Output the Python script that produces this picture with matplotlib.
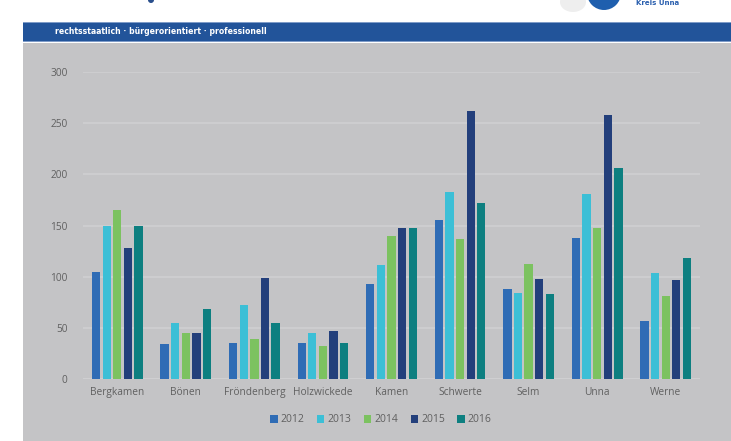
import matplotlib.pyplot as plt
from matplotlib.patches import Rectangle, Ellipse

# ---- data ----
cities = ["Bergkamen", "Bönen", "Fröndenberg", "Holzwickede", "Kamen",
          "Schwerte", "Selm", "Unna", "Werne"]
years = ["2012", "2013", "2014", "2015", "2016"]
v2012 = [105, 34, 35, 35, 93, 155, 88, 138, 57]
v2013 = [150, 55, 72, 45, 111, 183, 84, 181, 104]
v2014 = [165, 45, 39, 32, 140, 137, 112, 148, 81]
v2015 = [128, 45, 99, 47, 148, 262, 98, 258, 97]
v2016 = [150, 68, 55, 35, 148, 172, 83, 206, 118]
series = [v2012, v2013, v2014, v2015, v2016]
colors = ["#2f6cb5", "#3cbfd6", "#7cc260", "#233f7b", "#0d7f80"]

W, H = 731, 441
fig = plt.figure(figsize=(W / 100, H / 100), dpi=100, facecolor="white")

# grey panel and blue banner
fig.patches.append(Rectangle((23 / W, 0), 1, 1 - 43 / H, transform=fig.transFigure,
                             facecolor="#c4c4c6", edgecolor="none", zorder=0))
fig.patches.append(Rectangle((23 / W, 1 - 42 / H), 1, 20 / H, transform=fig.transFigure,
                             facecolor="#22549a", edgecolor="none", zorder=0))
for yy in (1 - 23 / H, 1 - 42 / H):
    fig.patches.append(Rectangle((23 / W, yy), 1, 1.2 / H, transform=fig.transFigure,
                                 facecolor="#7f9cc8", edgecolor="none", zorder=1))
fig.text(55 / W, 1 - 32 / H, "rechtsstaatlich · bürgerorientiert · professionell",
         color="white", fontsize=5.6, fontweight="bold", va="center", ha="left",
         family="DejaVu Sans")

# bits of the logo at the top edge
fig.patches.append(Ellipse((604 / W, 1 + 7 / H), 34 / W, 34 / H, transform=fig.transFigure,
                           facecolor="#1f5fae", edgecolor="none"))
fig.patches.append(Ellipse((573 / W, 1 - 2 / H), 26 / W, 20 / H, transform=fig.transFigure,
                           facecolor="#eeeeee", edgecolor="none"))
fig.patches.append(Ellipse((151 / W, 1), 6 / W, 6 / H, transform=fig.transFigure,
                           facecolor="#2a4f8c", edgecolor="none"))
fig.text(636 / W, 1 - 3 / H, "Kreis Unna", color="#2a5fae", fontsize=5,
         fontweight="bold", va="center", ha="left")

# chart
ax = fig.add_axes([83 / W, 1 - 379 / H, 617 / W, 307 / H])
ax.set_zorder(5)
ax.set_facecolor("none")
x = [i + 0.5 for i in range(len(cities))]
slot, bw = 0.155, 0.121
for k, (vals, col, yr) in enumerate(zip(series, colors, years)):
    ax.bar([xi + (k - 2) * slot for xi in x], vals, width=bw, color=col, label=yr, zorder=3)

ax.set_xlim(0, len(cities))
ax.set_ylim(0, 300)
ax.set_yticks(range(0, 301, 50))
ax.set_xticks(x)
ax.set_xticklabels(cities)
ax.grid(axis="y", color="#d0d0d2", linewidth=1.1, zorder=0)
for s in ax.spines.values():
    s.set_visible(False)
ax.axhline(0, color="#d0d0d2", linewidth=1.1, zorder=2)
ax.tick_params(length=0, labelsize=7.3, labelcolor="#606060")
ax.tick_params(axis="y", pad=11)
ax.tick_params(axis="x", pad=6)
for lab in ax.get_xticklabels() + ax.get_yticklabels():
    lab.set_family("Open Sans")

leg = fig.legend(loc="center", bbox_to_anchor=(381 / W, 1 - 420 / H), ncol=5, frameon=False,
                 handlelength=0.7, handleheight=0.7, handletextpad=0.3, columnspacing=1.2,
                 prop={"family": "Open Sans", "size": 7.5})
leg.set_zorder(6)
for t in leg.get_texts():
    t.set_color("#606060")

fig.savefig("out.png", dpi=100)
